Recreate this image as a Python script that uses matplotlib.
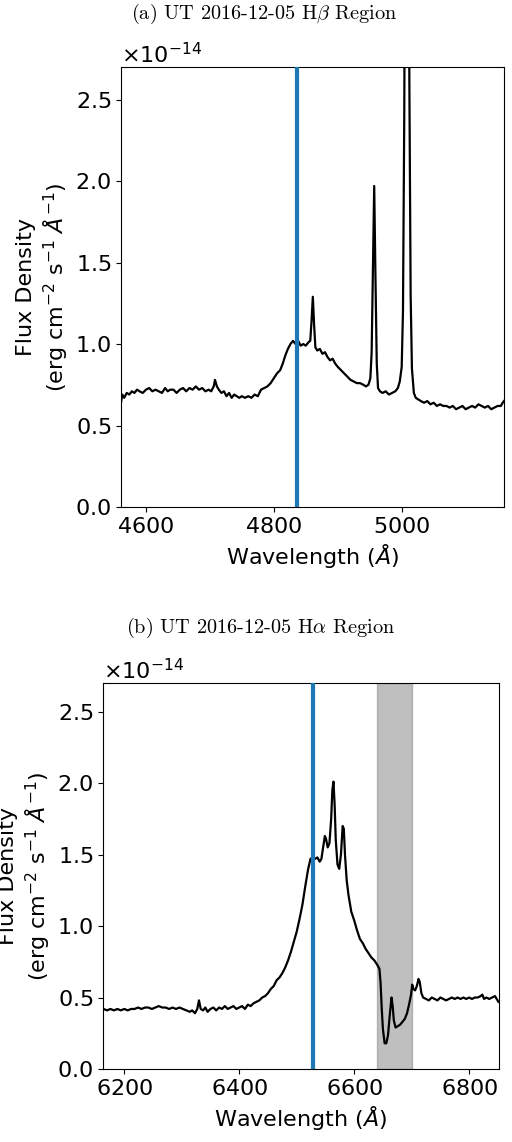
import matplotlib
matplotlib.use("Agg")
import matplotlib.pyplot as plt
import numpy as np

plt.rcParams['axes.formatter.use_mathtext'] = True
plt.rcParams['font.size'] = 16

# ---------------- Panel (a): H-beta region ----------------
wl_a = [4561, 4563, 4566, 4570, 4574, 4578, 4582, 4586, 4590, 4595, 4600, 4605, 4610, 4615, 4620,
        4625, 4630, 4634, 4638, 4643, 4648, 4653, 4658, 4663, 4668, 4673, 4678, 4683, 4688, 4693,
        4698, 4702, 4706, 4708, 4711, 4714, 4718, 4722, 4726, 4730, 4734, 4738, 4742, 4746, 4750,
        4755, 4760, 4765, 4770, 4775, 4780, 4785, 4790, 4795, 4800, 4805, 4810, 4814, 4818, 4822,
        4826, 4830, 4834, 4838, 4842, 4846, 4850, 4854, 4857, 4859, 4861, 4863, 4865, 4868, 4872,
        4876, 4880, 4884, 4888, 4892, 4896, 4900, 4905, 4910, 4915, 4920, 4925, 4930, 4935, 4940,
        4944, 4948, 4951, 4953, 4955, 4957, 4959, 4961, 4963, 4966, 4970, 4975, 4980, 4985, 4990,
        4994, 4997, 5000, 5002, 5004, 5006, 5008, 5010, 5012, 5014, 5016, 5019, 5022, 5026, 5030,
        5035, 5040, 5045, 5050, 5055, 5060, 5065, 5070, 5075, 5080, 5085, 5090, 5095, 5100, 5105,
        5110, 5115, 5120, 5125, 5130, 5135, 5140, 5145, 5150, 5155, 5158, 5160]
flux_a = [0.64, 0.69, 0.67, 0.70, 0.69, 0.71, 0.70, 0.72, 0.71, 0.70, 0.72, 0.73, 0.71, 0.72, 0.71,
          0.70, 0.73, 0.71, 0.72, 0.72, 0.70, 0.72, 0.73, 0.71, 0.73, 0.72, 0.74, 0.72, 0.73, 0.71,
          0.72, 0.71, 0.74, 0.78, 0.74, 0.72, 0.70, 0.71, 0.68, 0.70, 0.67, 0.69, 0.68, 0.67, 0.68,
          0.67, 0.68, 0.67, 0.69, 0.68, 0.72, 0.73, 0.74, 0.76, 0.79, 0.82, 0.84, 0.88, 0.93, 0.97,
          1.00, 1.02, 1.00, 1.02, 0.99, 1.00, 0.99, 1.01, 1.02, 1.14, 1.29, 1.12, 0.98, 0.96, 0.97,
          0.94, 0.95, 0.92, 0.90, 0.91, 0.88, 0.86, 0.84, 0.82, 0.80, 0.78, 0.77, 0.76, 0.76, 0.75,
          0.74, 0.75, 0.79, 0.95, 1.45, 1.97, 1.40, 0.88, 0.73, 0.71, 0.70, 0.71, 0.69, 0.70, 0.71,
          0.73, 0.77, 0.86, 1.20, 2.40, 4.50, 5.90, 4.50, 2.60, 1.30, 0.85, 0.70, 0.67, 0.66, 0.65,
          0.64, 0.65, 0.63, 0.64, 0.62, 0.63, 0.62, 0.62, 0.61, 0.62, 0.60, 0.61, 0.62, 0.60, 0.61,
          0.62, 0.61, 0.63, 0.62, 0.61, 0.62, 0.60, 0.61, 0.62, 0.62, 0.64, 0.65]
vline_a = 4836
xlim_a = (4561, 5160)

# ---------------- Panel (b): H-alpha region ----------------
wl_b = [6164, 6170, 6176, 6182, 6188, 6194, 6200, 6206, 6212, 6218, 6224, 6230, 6236, 6242, 6248,
        6254, 6260, 6266, 6272, 6278, 6284, 6290, 6296, 6302, 6308, 6314, 6318, 6323, 6327, 6330,
        6333, 6337, 6341, 6345, 6350, 6355, 6360, 6365, 6370, 6375, 6380, 6385, 6390, 6395, 6400,
        6405, 6410, 6415, 6420, 6425, 6430, 6435, 6440, 6445, 6450, 6455, 6460, 6465, 6470, 6475,
        6480, 6485, 6490, 6495, 6500, 6505, 6510, 6515, 6520, 6524, 6528, 6532, 6536, 6540, 6543,
        6546, 6549, 6551, 6554, 6557, 6560, 6562, 6564, 6566, 6568, 6571, 6574, 6577, 6580, 6582,
        6584, 6587, 6590, 6595, 6600, 6605, 6610, 6615, 6620, 6625, 6630, 6635, 6640, 6644, 6646,
        6648, 6650, 6653, 6656, 6659, 6662, 6665, 6667, 6669, 6672, 6676, 6680, 6684, 6688, 6692,
        6696, 6699, 6701, 6703, 6706, 6709, 6712, 6714, 6717, 6720, 6725, 6730, 6735, 6740, 6745,
        6750, 6755, 6760, 6765, 6770, 6775, 6780, 6785, 6790, 6795, 6800, 6805, 6810, 6815, 6820,
        6823, 6826, 6830, 6835, 6840, 6845, 6848, 6851]
flux_b = [0.42, 0.41, 0.42, 0.41, 0.42, 0.41, 0.42, 0.41, 0.42, 0.42, 0.43, 0.42, 0.43, 0.43, 0.42,
          0.43, 0.44, 0.43, 0.43, 0.42, 0.43, 0.42, 0.43, 0.42, 0.41, 0.40, 0.41, 0.39, 0.42, 0.48,
          0.42, 0.41, 0.43, 0.40, 0.42, 0.43, 0.41, 0.43, 0.42, 0.44, 0.42, 0.43, 0.44, 0.42, 0.43,
          0.44, 0.42, 0.45, 0.44, 0.46, 0.47, 0.48, 0.50, 0.51, 0.53, 0.56, 0.58, 0.62, 0.64, 0.67,
          0.71, 0.76, 0.82, 0.89, 0.96, 1.05, 1.15, 1.28, 1.40, 1.47, 1.48, 1.47, 1.48, 1.45, 1.47,
          1.55, 1.63, 1.61, 1.55, 1.58, 1.75, 1.95, 2.01, 1.85, 1.60, 1.43, 1.40, 1.50, 1.70, 1.68,
          1.50, 1.32, 1.22, 1.10, 1.04, 0.97, 0.91, 0.88, 0.84, 0.81, 0.78, 0.76, 0.73, 0.70, 0.60,
          0.42, 0.28, 0.18, 0.18, 0.24, 0.38, 0.50, 0.44, 0.34, 0.29, 0.30, 0.31, 0.33, 0.35, 0.39,
          0.46, 0.52, 0.59, 0.56, 0.55, 0.58, 0.63, 0.61, 0.53, 0.50, 0.49, 0.48, 0.50, 0.49, 0.48,
          0.50, 0.49, 0.48, 0.49, 0.50, 0.49, 0.50, 0.49, 0.50, 0.49, 0.50, 0.49, 0.50, 0.50, 0.51,
          0.52, 0.49, 0.50, 0.49, 0.50, 0.51, 0.49, 0.47]
vline_b = 6529
band_b = (6640, 6700)
xlim_b = (6163, 6852)

scale = 1e-14
ylim = (0, 2.7)

titles = [r"(a) UT 2016-12-05 H$\beta$ Region", r"(b) UT 2016-12-05 H$\alpha$ Region"]
ylabel = "Flux Density\n(erg cm$^{-2}$ s$^{-1}$ $\\AA^{-1}$)"
xlabel = r"Wavelength ($\AA$)"

W, H = 512, 1142
fig = plt.figure(figsize=(W / 100, H / 100), dpi=100)

def box(l, t, r, b):
    return [l / W, 1 - b / H, (r - l) / W, (b - t) / H]

ax_a = fig.add_axes(box(121, 67, 504, 507))
ax_b = fig.add_axes(box(103, 683, 499, 1069))

panels = [
    (ax_a, wl_a, flux_a, vline_a, None, xlim_a),
    (ax_b, wl_b, flux_b, vline_b, band_b, xlim_b),
]
for ax, wl, fl, vl, band, xl in panels:
    ax.plot(wl, np.array(fl) * scale, color='black', lw=1.6, zorder=3)
    ax.axvline(vl, color='#1f77b4', lw=3, zorder=4)
    if band is not None:
        ax.axvspan(band[0], band[1], color='gray', alpha=0.5, zorder=1)
    ax.set_xlim(*xl)
    ax.set_ylim(ylim[0] * scale, ylim[1] * scale)
    ax.set_xlabel(xlabel, fontsize=16)
    ax.set_ylabel(ylabel, fontsize=16)
    ax.tick_params(labelsize=16)
    ax.yaxis.get_offset_text().set_fontsize(16)

ax_a.set_xticks([4600, 4800, 5000])
ax_b.set_xticks([6200, 6400, 6600, 6800])

title_kw = dict(ha='center', va='center', fontsize=14.6, family='cmr10')
plt.rcParams['mathtext.fontset'] = 'cm'
fig.text(264 / W, 1 - 14 / H, titles[0], **title_kw)
fig.text(261 / W, 1 - 628 / H, titles[1], **title_kw)
plt.rcParams['mathtext.fontset'] = 'dejavusans'

fig.savefig("out.png", dpi=100)
